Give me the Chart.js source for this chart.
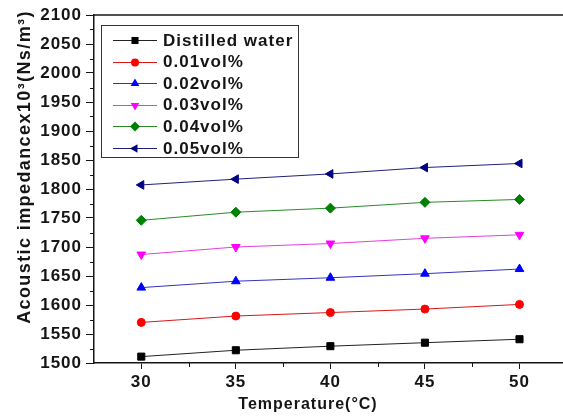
<!DOCTYPE html>
<html>
<head>
<meta charset="utf-8">
<script src="https://cdn.jsdelivr.net/npm/chart.js@4/dist/chart.umd.min.js"></script>
<style>
  body { margin: 0; background: #fff; overflow: hidden; }
  canvas { display: block; }
</style>
</head>
<body>
<!-- a bit wider than the window: the original figure is cut off at the right -->
<canvas id="impChart" width="569" height="417"></canvas>
<script>
// Values
var temps = [30, 35, 40, 45, 50];
var xTicks = [30, 35, 40, 45, 50];
var water = [1511, 1522, 1529, 1535, 1541];
var vol001 = [1570, 1581, 1587, 1593, 1601];
var vol002 = [1630, 1641, 1647, 1654, 1662];
var vol003 = [1687, 1700, 1706, 1715, 1721];
var vol004 = [1746, 1760, 1767, 1777, 1782];
var vol005 = [1807, 1817, 1826, 1837, 1844];
var seriesNames = ['Distilled water', '0.01vol%', '0.02vol%', '0.03vol%', '0.04vol%', '0.05vol%'];
var yTitle = 'Acoustic impedancex10³(Ns/m³)';
var xTitle = 'Temperature(°C)';

var FONT = '"Liberation Sans", Arial, sans-serif';
var INK = '#151515';

function pts(ys) {
  return temps.map(function (t, i) { return { x: t, y: ys[i] }; });
}

function makeSet(name, ys, line, fill, style, rot, r) {
  return {
    label: name,
    data: pts(ys),
    borderColor: line,
    borderWidth: 1,
    backgroundColor: fill,
    pointBackgroundColor: fill,
    pointBorderColor: fill,
    pointBorderWidth: 1,
    pointStyle: style,
    pointRotation: rot,
    pointRadius: r,
    pointHoverRadius: r,
    fill: false,
    tension: 0
  };
}

var datasets = [
  makeSet(seriesNames[0], water, '#222222', '#000000', 'rect', 0, 5),
  makeSet(seriesNames[1], vol001, '#d81818', '#ff0000', 'circle', 0, 4),
  makeSet(seriesNames[2], vol002, '#3434b8', '#0000ff', 'triangle', 0, 5),
  makeSet(seriesNames[3], vol003, '#e040e0', '#ff00ff', 'triangle', 180, 5),
  makeSet(seriesNames[4], vol004, '#2a8a2a', '#008000', 'rectRot', 0, 5),
  makeSet(seriesNames[5], vol005, '#20207a', '#000080', 'triangle', -90, 5)
];

// my own marker drawing for the legend box
function drawMarker(ctx, style, rot, r, x, y) {
  var a = rot * Math.PI / 180;
  ctx.beginPath();
  if (style === 'rect') {
    var s = Math.SQRT1_2 * r;
    ctx.rect(x - s, y - s, 2 * s, 2 * s);
  } else if (style === 'circle') {
    ctx.arc(x, y, r, 0, Math.PI * 2);
  } else if (style === 'rectRot') {
    ctx.moveTo(x, y - r); ctx.lineTo(x + r, y); ctx.lineTo(x, y + r); ctx.lineTo(x - r, y);
  } else {
    for (var k = 0; k < 3; k++) {
      var px = x + Math.sin(a) * r, py = y - Math.cos(a) * r;
      if (k === 0) ctx.moveTo(px, py); else ctx.lineTo(px, py);
      a += Math.PI * 2 / 3;
    }
  }
  ctx.closePath();
  ctx.fill();
}

var extrasPlugin = {
  id: 'extras',
  beforeDraw: function (chart) {
    chart.ctx.letterSpacing = '1px';
  },
  afterDraw: function (chart) {
    var ctx = chart.ctx;
    var area = chart.chartArea;
    var xs = chart.scales.x, ys = chart.scales.y;
    ctx.save();
    ctx.strokeStyle = INK;
    // top frame line
    ctx.lineWidth = 1.5;
    ctx.beginPath();
    ctx.moveTo(area.left, area.top);
    ctx.lineTo(area.right, area.top);
    ctx.stroke();
    // minor ticks
    ctx.lineWidth = 1;
    ctx.beginPath();
    for (var v = 1525; v < 2100; v += 50) {
      var py = Math.round(ys.getPixelForValue(v)) + 0.5;
      ctx.moveTo(area.left - 4, py); ctx.lineTo(area.left, py);
    }
    for (var t = 32.5; t < xs.max; t += 5) {
      var px = Math.round(xs.getPixelForValue(t)) + 0.5;
      ctx.moveTo(px, area.bottom); ctx.lineTo(px, area.bottom + 4);
    }
    ctx.stroke();

    // axis titles, placed like the original (not centred on the axes)
    ctx.fillStyle = INK;
    ctx.textAlign = 'center';
    ctx.textBaseline = 'middle';
    ctx.font = 'bold 16px ' + FONT;
    ctx.letterSpacing = '1px';
    ctx.fillText(xTitle, 308, 405);
    ctx.save();
    ctx.translate(25, 167);
    ctx.rotate(-Math.PI / 2);
    ctx.font = 'bold 18px ' + FONT;
    ctx.letterSpacing = '1.4px';
    ctx.fillText(yTitle, 0, 0);
    ctx.restore();

    // legend box
    var bx = 101, by = 25, bw = 197, bh = 132;
    ctx.strokeStyle = '#333';
    ctx.lineWidth = 1;
    ctx.strokeRect(bx + 0.5, by + 0.5, bw, bh);
    ctx.font = 'bold 17px ' + FONT;
    ctx.letterSpacing = '1px';
    ctx.textBaseline = 'middle';
    ctx.textAlign = 'left';
    chart.data.datasets.forEach(function (ds, i) {
      var ry = 40 + i * 21.6;
      ctx.strokeStyle = ds.borderColor;
      ctx.lineWidth = 1;
      ctx.beginPath();
      ctx.moveTo(113, Math.round(ry) + 0.5);
      ctx.lineTo(157, Math.round(ry) + 0.5);
      ctx.stroke();
      ctx.fillStyle = ds.pointBackgroundColor;
      drawMarker(ctx, ds.pointStyle, ds.pointRotation, ds.pointRadius, 135, Math.round(ry) + 0.5);
      ctx.fillStyle = INK;
      ctx.fillText(ds.label, 163, ry + 1);
    });
    ctx.restore();
  }
};

new Chart(document.getElementById('impChart'), {
  type: 'line',
  data: { datasets: datasets },
  options: {
    responsive: false,
    animation: false,
    events: [],
    layout: { padding: { top: 15, left: 0, right: 0, bottom: 0 } },
    plugins: {
      legend: { display: false },
      tooltip: { enabled: false }
    },
    scales: {
      x: {
        type: 'linear',
        min: 27.5,
        max: 52.3,
        afterFit: function (s) { s.height = 54; s.paddingLeft = 0; s.paddingRight = 0; },
        afterBuildTicks: function (s) {
          s.ticks = xTicks.map(function (v) { return { value: v }; });
        },
        border: { display: true, color: INK, width: 1.5 },
        grid: { drawOnChartArea: false, drawTicks: true, tickLength: 6, color: INK, lineWidth: 1 },
        ticks: {
          color: INK,
          padding: 3,
          maxRotation: 0,
          font: { family: FONT, size: 17, weight: 'bold' },
          callback: function (v) { return String(v); }
        },
        title: { display: false }
      },
      y: {
        min: 1500,
        max: 2100,
        afterFit: function (s) { s.width = 94; s.paddingTop = 0; s.paddingBottom = 0; },
        border: { display: true, color: INK, width: 1.5 },
        grid: { drawOnChartArea: false, drawTicks: true, tickLength: 8, color: INK, lineWidth: 1 },
        ticks: {
          stepSize: 50,
          color: INK,
          padding: 4,
          font: { family: FONT, size: 17, weight: 'bold' },
          callback: function (v) { return String(v); }
        },
        title: { display: false }
      }
    }
  },
  plugins: [extrasPlugin]
});
</script>
</body>
</html>
